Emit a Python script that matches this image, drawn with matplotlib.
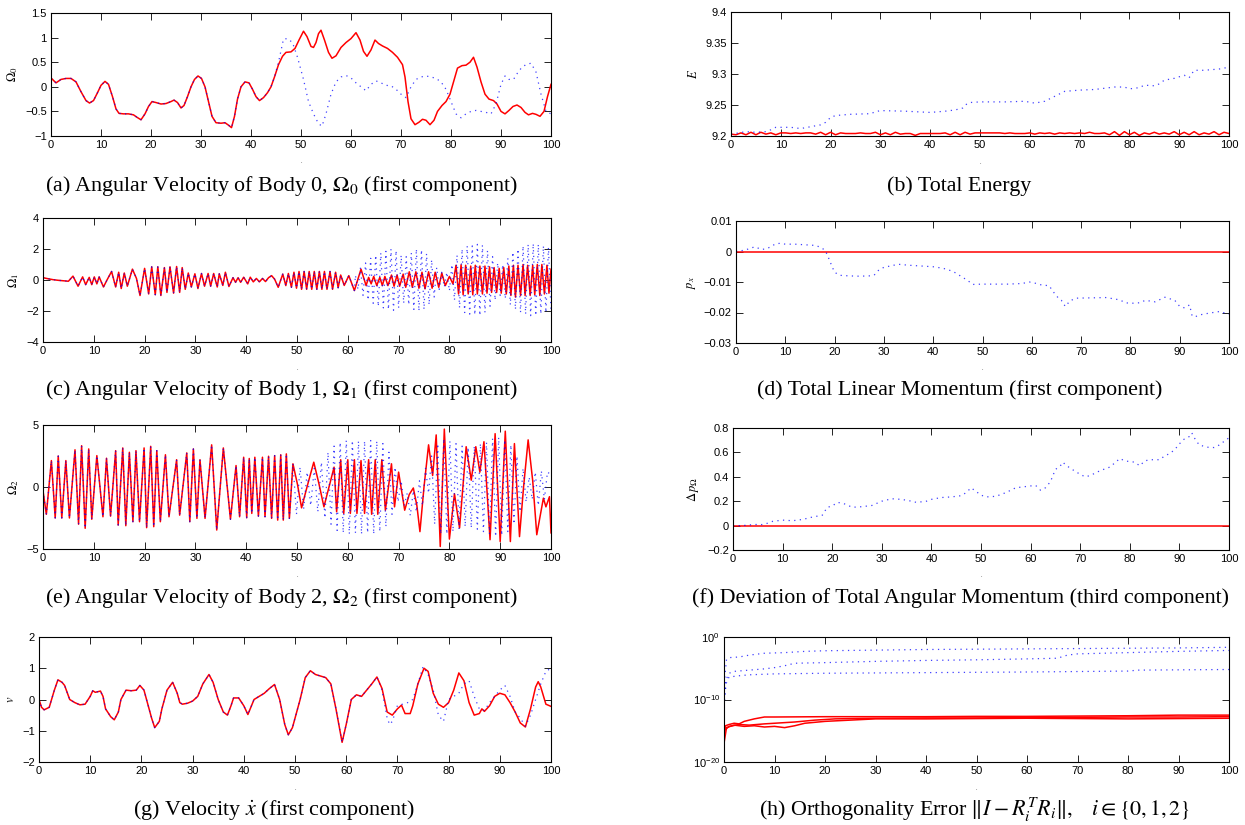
import numpy as np
import matplotlib
matplotlib.use('Agg')
import matplotlib.pyplot as plt
from matplotlib.ticker import NullLocator

plt.rcParams['font.family'] = ['Liberation Sans', 'DejaVu Sans']
plt.rcParams['mathtext.fontset'] = 'stix'

# ---- (a) angular velocity body 0 ----
om0_red = [(0,0.18),(1,0.08),(2,0.15),(3,0.17),(4,0.17),(5,0.1),(6,-0.1),(7,-0.28),(7.7,-0.33),(8.5,-0.28),
           (9.3,-0.12),(10,0.03),(10.8,0.11),(11.5,0.05),(12.3,-0.2),(13,-0.45),(13.6,-0.54),(14.5,-0.55),
           (15.5,-0.55),(16.5,-0.57),(17.2,-0.62),(18,-0.67),(18.8,-0.55),(19.5,-0.4),(20.2,-0.3),(21,-0.32),
           (22,-0.35),(23,-0.34),(24,-0.3),(24.6,-0.27),(25.3,-0.32),(26,-0.43),(26.6,-0.38),(27.3,-0.2),
           (28,0.0),(28.7,0.15),(29.4,0.22),(30.1,0.17),(30.8,0.0),(31.5,-0.3),(32.2,-0.6),(33,-0.73),
           (34,-0.74),(34.8,-0.73),(35.5,-0.78),(36.1,-0.83),(36.7,-0.6),(37.3,-0.25),(38,0.0),(38.8,0.1),
           (39.6,0.08),(40.3,-0.05),(41,-0.2),(41.7,-0.28),(42.5,-0.22),(43.3,-0.12),(44,0.0),(44.7,0.2),
           (45.5,0.45),(46.3,0.62),(47,0.7),(48,0.71),(48.8,0.78),(49.6,0.95),(50.5,1.13),(51.2,1.02),
           (52,0.82),(52.5,0.8),(53,0.9),(53.5,1.08),(54,1.15),(54.7,0.95),(55.5,0.7),(56.2,0.58),(57,0.63),
           (58,0.8),(59,0.9),(60,0.98),(61,1.1),(61.8,0.95),(62.5,0.72),(63.2,0.62),(64,0.75),(64.8,0.95),
           (65.5,0.88),(66.3,0.83),(67.3,0.78),(68.3,0.7),(69.3,0.6),(70.3,0.45),(70.8,0.2),(71.4,-0.3),
           (72,-0.65),(72.8,-0.77),(73.6,-0.72),(74.3,-0.66),(75,-0.68),(75.8,-0.77),(76.6,-0.68),
           (77.3,-0.5),(78.2,-0.38),(79,-0.3),(79.8,-0.15),(80.5,0.1),(81.3,0.38),(82.2,0.43),(83,0.44),
           (83.8,0.5),(84.5,0.6),(85.2,0.4),(86,0.1),(86.8,-0.15),(87.6,-0.25),(88.5,-0.28),(89.2,-0.35),
           (90,-0.5),(90.8,-0.55),(91.6,-0.48),(92.4,-0.4),(93.2,-0.37),(94,-0.42),(94.8,-0.52),(95.5,-0.57),
           (96.3,-0.54),(97,-0.56),(97.8,-0.6),(98.6,-0.5),(99.3,-0.2),(100,0.05)]
om0_blue_tail = [(45.5,0.5),(46.5,0.97),(47.3,0.98),(48.3,0.9),(49.3,0.6),(50.5,0.15),(51.5,-0.3),(52.5,-0.55),
                 (53.5,-0.75),(54.2,-0.8),(55,-0.55),(56,-0.15),(57,0.1),(58,0.2),(59,0.23),(60,0.18),(61,0.08),
                 (62,0.0),(63,-0.08),(64,0.05),(65,0.12),(66,0.08),(67,0.03),(68,0.02),(69,-0.05),(70,-0.15),
                 (71,-0.22),(72,0.0),(73,0.15),(74,0.2),(75,0.22),(76,0.2),(77,0.17),(78,0.1),(79,-0.05),
                 (80,-0.3),(81,-0.55),(82,-0.63),(83,-0.55),(84,-0.5),(85,-0.48),(86,-0.5),(87,-0.52),(88,-0.55),
                 (89,-0.35),(90,0.05),(90.8,0.22),(91.6,0.15),(92.5,0.15),(93.3,0.28),(94.2,0.4),(95,0.45),
                 (96,0.48),(97,0.3),(98,-0.15),(99,-0.5),(100,-0.55)]

# ---- (b) total energy ----
energy_t = np.arange(0, 101)
energy_red_milli = [3,2,5,2,6,2,6,3,5,2, 5,5,4,5,4,5,5,3,6,2, 6,2,5,4,4,4,5,4,4,6,
                    2,5,2,6,3,4,4,1,4,4, 4,4,4,5,2,6,2,6,3,5, 5,5,5,5,5,4,5,4,4,4,
                    5,3,5,4,5,3,5,4,5,4, 5,4,6,4,4,5,2,7,1,7, 2,6,1,5,3,6,3,5,3,7,
                    2,6,2,7,2,5,3,7,2,6, 4]
energy_blue = [(0,9.203),(3,9.207),(5,9.206),(7,9.207),(8,9.21),(9,9.214),(12,9.214),(14,9.212),(16,9.215),
               (18,9.218),(19,9.222),(20,9.23),(21,9.233),(24,9.235),(28,9.236),(29,9.239),(30,9.241),
               (35,9.24),(40,9.238),(43,9.24),(45,9.242),(46.5,9.245),(47,9.25),(48,9.254),(50,9.255),
               (55,9.255),(59,9.256),(61,9.253),(63,9.256),(64.5,9.262),(66,9.268),(67,9.272),(70,9.274),
               (73,9.275),(75,9.277),(77,9.279),(79,9.279),(80,9.276),(82,9.278),(83,9.282),(85,9.281),
               (86,9.284),(87,9.29),(89,9.293),(91,9.298),(92,9.294),(93,9.306),(95,9.306),(98,9.308),(100,9.311)]

# ---- (c) angular velocity body 1 ----
om1_red = [(0,0.15),(1,0.08),(2,0.02),(3,-0.02),(4,-0.05),(5,-0.08),
           (5.9,0.25),(6.9,-0.4),(7.8,0.2),(8.4,-0.3),(9.1,0.17),(9.6,-0.3),(10.1,0.2),(10.6,-0.25),(11.05,0.2),
           (11.9,-0.45),(12.6,0.0),(13.5,0.55),(14.3,-0.45),(14.9,0.5),(15.4,-0.55),(16.0,0.45),(16.6,-0.4),
           (17.6,0.7),(18.4,0.1),(19.1,-1.0),(20.0,0.75),(20.8,-0.9),(21.4,0.85),(22.1,-0.95),(22.6,0.85),
           (23.2,-1.0),(23.9,0.8),(24.4,-0.8),(25.0,0.85),(25.7,-0.85),(26.3,0.87),(26.9,-0.8),(27.4,0.8),
           (28.0,-0.6),(28.6,0.45),(29.2,-0.45),(29.9,0.4),(30.5,-0.55),(31.2,0.42),(31.8,-0.4),(32.5,0.42),
           (33.0,-0.4),(33.6,0.42),(34.3,-0.45),(34.7,0.4),(35.4,-0.35),(35.9,0.5),(36.6,-0.42),
           (37.4,0.15),(37.9,-0.15),(38.4,0.15),(38.9,-0.15),(39.5,0.18),(40.3,-0.25),(40.8,0.18),(41.4,-0.12),
           (42.0,0.1),(42.6,-0.12),(43.2,0.1),(43.8,-0.1),(44.4,0.15),(45.0,0.28),(45.6,0.05),(46.3,-0.47),
           (47.2,0.38),(47.8,-0.36),(48.3,0.42),(48.9,-0.47),(49.4,0.5),(49.9,-0.53),
           (50.4,0.55),(50.9,-0.6),(51.4,0.55),(51.9,-0.6),(52.4,0.55),(52.9,-0.6),(53.4,0.55),(53.9,-0.6),
           (54.4,0.55),(54.9,-0.6),(55.4,0.55),(55.9,-0.6),(56.5,0.55),(57.0,-0.6),(57.6,0.5),(58.1,-0.5),
           (58.6,0.32),(59.3,-0.35),(60.2,0.28),(61.3,-0.68),(62.6,0.7),(63.6,-0.36),(64.1,0.17),(64.6,-0.25),
           (65.1,0.23),(65.7,-0.36),(66.3,0.17),(66.8,-0.36),(67.3,0.23),(67.9,-0.36),(68.6,0.32),(69.1,-0.4),
           (69.7,0.32),(70.2,-0.4),(70.9,0.38),(71.4,-0.47),(72.1,0.53),(72.7,-0.47),(73.4,0.53),(74.0,-0.53),
           (74.6,0.5),(75.2,-0.57),(75.9,0.53),(76.6,-0.53),(77.2,0.5),(77.9,-0.47),(78.5,0.45),(79.2,-0.36),
           (80.0,0.23),(80.7,-0.25),
           (81.3,0.95),(81.8,-0.9),(82.3,0.98),(82.7,-0.95),(83.2,0.95),(83.7,-0.9),(84.2,0.9),(84.6,-0.95),
           (85.1,0.95),(85.5,-0.9),(86.0,0.9),(86.5,-0.9),(87.0,0.9),(87.4,-0.85),(87.9,0.85),(88.3,-0.8),
           (88.8,0.8),(89.3,-0.8),(89.8,0.75),(90.2,-0.85),(90.7,0.8),(91.2,-0.9),(91.7,0.9),(92.1,-1.0),
           (92.6,0.95),(93.0,-1.1),(93.5,0.95),(94.0,-1.0),(94.5,1.0),(94.9,-1.0),(95.4,0.95),(95.9,-1.0),
           (96.4,0.95),(96.8,-0.95),(97.3,1.0),(97.8,-1.0),(98.2,1.0),(98.7,-0.9),(99.2,0.95),(99.6,-0.85),
           (100,0.7)]
om1_blue_tail = [(61.5,0.3),(62.0,-0.6),(62.5,0.8),(63.0,-1.0),(63.5,1.1),(64.0,-1.3),(64.5,1.4),(65.0,-1.5),
                 (65.5,1.6),(66.0,-1.7),(66.5,1.75),(67.0,-1.8),(67.5,1.85),(68.0,-1.9),(68.5,2.0),(69.0,-1.95),
                 (69.5,1.9),(70.0,-1.8),(70.5,1.6),(71.0,-1.5),(71.5,1.5),(72.0,-1.6),(72.5,1.75),(73.0,-1.9),
                 (73.5,2.0),(74.0,-2.0),(74.5,1.95),(75.0,-1.9),(75.5,1.7),(76.0,-1.6),(76.5,1.3),(77.0,-1.1),
                 (77.5,0.8),(78.0,-0.6),(78.5,0.5),(79.0,-0.45),(79.5,0.5),(80.0,-0.7),(80.5,1.0),(81.0,-1.3),
                 (81.5,1.6),(82.0,-1.8),(82.5,2.0),(83.0,-2.1),(83.5,2.2),(84.0,-2.2),(84.5,2.2),(85.0,-2.25),
                 (85.5,2.3),(86.0,-2.3),(86.5,2.25),(87.0,-2.1),(87.5,1.9),(88.0,-1.7),(88.5,1.5),(89.0,-1.3),
                 (89.5,1.1),(90.0,-1.0),(90.5,1.0),(91.0,-1.2),(91.5,1.4),(92.0,-1.6),(92.5,1.8),(93.0,-1.9),
                 (93.5,2.0),(94.0,-2.1),(94.5,2.2),(95.0,-2.2),(95.5,2.3),(96.0,-2.3),(96.5,2.35),(97.0,-2.3),
                 (97.5,2.3),(98.0,-2.2),(98.5,2.2),(99.0,-2.1),(99.5,2.1),(100.0,-2.0)]

# ---- (d) linear momentum ----
px_red = [(0,0.0),(100,0.0)]
px_blue = [(0,0.0),(2,0.0005),(3,0.0012),(4,0.0015),(5,0.0007),(6,0.0008),(7,0.0015),(8,0.0025),(9,0.0027),
           (10,0.0024),(12,0.0024),(14,0.0022),(16,0.002),(17,0.0015),(18,0.0005),(18.5,-0.001),(19,-0.003),
           (19.5,-0.005),(20,-0.0068),(21,-0.0078),(23,-0.008),(25,-0.0081),(27,-0.008),(28,-0.0078),
           (29,-0.006),(30,-0.0052),(32,-0.0045),(33,-0.0042),(35,-0.0045),(38,-0.0048),(40,-0.005),
           (42,-0.0055),(44,-0.0065),(45,-0.0075),(46,-0.0085),(47,-0.0095),(48,-0.0108),(50,-0.0107),
           (55,-0.0107),(58,-0.0105),(59.5,-0.01),(61,-0.0105),(62,-0.011),(63.5,-0.0112),(64.5,-0.0135),
           (65.5,-0.0155),(66,-0.016),(66.5,-0.0175),(67,-0.018),(67.5,-0.0165),(68,-0.016),(69,-0.0153),
           (72,-0.0152),(75,-0.0151),(77,-0.0156),(78,-0.016),(79,-0.0168),(80,-0.017),(82,-0.0168),
           (83,-0.016),(85,-0.0165),(87,-0.015),(88,-0.0155),(89,-0.016),(90,-0.018),(91,-0.0185),
           (92,-0.0175),(92.5,-0.021),(93,-0.0215),(94,-0.0208),(96,-0.0202),(98,-0.0197),(100,-0.0205)]

# ---- (e) angular velocity body 2 ----
om2_red = [(0,-0.3),(0.66,-2.2),(1.65,2.13),(2.4,-2.5),(3.0,2.5),(3.7,-2.5),(4.5,2.13),(5.2,-2.5),(6.3,3.0),
           (7.0,-3.0),(7.6,3.33),(8.3,-3.33),(9.0,3.07),(9.6,-2.6),(10.6,2.53),(11.8,-2.4),(12.5,2.32),
           (13.3,-2.35),(14.3,2.93),(14.8,-3.07),(15.7,3.15),(16.3,-3.12),(17.0,2.8),(17.7,-2.8),(18.3,2.93),
           (19.0,-2.8),(19.9,3.15),(20.4,-3.28),(21.2,3.28),(21.8,-3.2),(22.4,2.93),(23.1,-2.8),(24.1,2.6),
           (24.8,-2.4),(26.3,2.2),(26.9,-2.27),(28.3,2.75),(28.9,-2.8),(29.6,3.07),(30.3,-2.53),(30.9,2.2),
           (31.9,-2.53),(33.2,3.4),(34.2,-3.47),(35.5,3.15),(36.9,-2.6),(38.0,1.73),(38.7,-2.4),(39.5,2.4),
           (40.1,-2.48),(40.6,2.3),(41.1,-2.13),(41.7,2.4),(42.4,-2.35),(43.2,2.4),(43.7,-2.4),(44.4,2.48),
           (45.0,-2.53),(45.6,2.53),(46.2,-2.67),(46.8,2.6),(47.3,-2.67),(47.9,2.67),(48.5,-2.53),(49.2,1.87),
           (50.1,0.2),(50.9,-1.68),(52.1,0.2),(53.3,2.0),(54.3,0.3),(55.3,-1.6),(56.3,0.0),(57.3,1.6),
           (57.8,-2.0),(58.6,2.2),(59.2,-2.13),(60.0,2.2),(60.5,-2.13),(61.3,2.2),(61.8,-2.13),(62.6,2.13),
           (63.3,-2.13),(64.1,2.2),(64.7,-2.2),(65.4,2.2),(65.9,-2.2),(66.7,2.2),(67.4,-1.87),(68.6,1.87),
           (69.2,-1.6),(70.0,1.2),(71.2,-1.87),(72.1,-0.6),(72.9,-0.08),(73.6,-1.5),(74.2,-3.6),(75.0,0.0),
           (75.9,3.4),(76.7,0.93),(77.4,4.2),(78.2,-4.8),(79.0,4.67),(80.0,-4.2),(81.0,-0.55),(82.0,-3.3),
           (83.3,3.25),(84.3,0.55),(85.2,3.25),(86.0,1.2),(86.8,3.65),(88.0,-4.25),(89.0,4.3),(90.0,-4.4),
           (91.0,4.5),(92.0,-4.4),(92.8,3.5),(93.8,-4.0),(94.6,0.0),(95.5,3.8),(96.4,0.5),(97.2,-3.85),
           (98.5,-0.9),(99.0,-1.6),(99.7,-0.78),(100,-3.7)]
om2_blue_tail = [(49.2,1.9),(49.9,-2.2),(50.6,1.6),(51.3,-1.8),(52.0,1.2),(52.7,-1.5),(53.4,1.5),(54.1,-2.0),
                 (54.8,2.0),(55.5,-2.5),(56.1,2.8),(56.7,-3.0),(57.3,3.3),(57.9,-3.5),(58.5,3.6),(59.1,-3.7),
                 (59.7,3.75),(60.3,-3.8),(60.9,3.75),(61.5,-3.7),(62.1,3.7),(62.7,-3.8),(63.3,3.7),(63.9,-3.7),
                 (64.5,3.75),(65.1,-3.8),(65.7,3.7),(66.3,-3.6),(66.9,3.5),(67.5,-3.2),(68.1,2.8),(68.7,-2.2),
                 (69.3,1.6),(69.9,-1.2),(70.5,0.5),(71.1,-1.5),(71.7,-0.5),(72.3,-2.3),(72.9,-0.3),(73.5,-2.0),
                 (74.1,0.5),(74.7,-1.5),(75.3,1.5),(75.9,-0.5),(76.5,2.5),(77.1,-3.0),(77.7,3.5),(78.3,-3.8),
                 (78.9,3.9),(79.5,-3.8),(80.1,3.7),(80.7,-3.6),(81.3,3.5),(81.9,-3.4),(82.5,3.3),(83.1,-3.2),
                 (83.7,3.2),(84.3,-3.3),(84.9,3.3),(85.5,-3.4),(86.1,3.5),(86.7,-3.6),(87.3,3.6),(87.9,-3.8),
                 (88.5,3.9),(89.1,-4.0),(89.7,4.0),(90.3,-3.9),(90.9,3.8),(91.5,-3.6),(92.1,3.4),(92.7,-3.0),
                 (93.3,2.5),(93.9,-2.0),(94.5,1.5),(95.1,-1.2),(95.7,0.8),(96.3,-1.0),(96.9,1.2),(97.5,-1.5),
                 (98.1,1.3),(98.7,-1.0),(99.3,1.2),(100,1.0)]

# ---- (f) deviation of angular momentum ----
dp_red = [(0,0.0),(100,0.0)]
dp_blue = [(0,0.0),(2,0.0),(3,0.005),(5,0.01),(6,0.008),(7,0.02),(8,0.035),(9,0.04),(10,0.045),(12,0.04),
           (14,0.05),(16,0.07),(18,0.085),(19,0.15),(20,0.16),(21,0.19),(22,0.185),(23,0.17),(24,0.15),
           (26,0.155),(28,0.165),(30,0.2),(32,0.22),(34,0.215),(36,0.2),(37,0.19),(39,0.2),(40,0.215),
           (42,0.23),(44,0.235),(46,0.245),(47,0.27),(48,0.31),(49,0.28),(50,0.25),(51,0.235),(53,0.24),
           (55,0.27),(57,0.31),(59,0.32),(61,0.33),(62,0.29),(63,0.31),(64,0.36),(65,0.46),(66,0.49),
           (66.5,0.52),(67,0.5),(68,0.47),(70,0.42),(71,0.4),(72,0.41),(74,0.45),(76,0.48),(78,0.55),
           (79,0.53),(81,0.52),(82,0.49),(83,0.53),(84,0.54),(86,0.54),(87,0.57),(88,0.59),(89,0.62),
           (90,0.67),(91,0.71),(92,0.73),(92.5,0.76),(93,0.72),(94,0.66),(96,0.64),(97,0.64),(98,0.66),(100,0.72)]

# ---- (g) velocity ----
vel_red = [(0,0.0),(0.5,-0.25),(1,-0.33),(2,-0.25),(3,0.3),(3.7,0.63),(4.5,0.55),(5,0.45),(6,0.0),(7,-0.1),
           (8,-0.17),(9,-0.15),(10,0.1),(10.5,0.28),(11,0.23),(12,0.27),(12.5,0.1),(13,-0.3),(14,-0.55),
           (14.7,-0.65),(15.5,-0.4),(16,0.0),(17,0.3),(18,0.28),(19,0.3),(19.7,0.45),(20.5,0.3),(21,0.0),
           (22,-0.6),(22.6,-0.9),(23.5,-0.7),(24,-0.3),(25,0.3),(26.1,0.55),(27,0.2),(27.5,-0.1),(28,-0.15),
           (29,-0.12),(30,-0.05),(31,0.1),(32,0.5),(33.2,0.8),(34,0.55),(35,0.0),(36,-0.4),(36.8,-0.5),
           (37.5,-0.2),(38,0.05),(39,0.05),(40,-0.2),(40.8,-0.48),(41.5,-0.2),(42,0.0),(43,0.1),(44,0.2),
           (45,0.35),(46,0.48),(47,0.0),(48,-0.8),(48.7,-1.13),(49.5,-0.9),(50,-0.6),(51,0.0),(52,0.7),
           (53,0.92),(54,0.8),(55,0.75),(56,0.7),(57,0.5),(58,-0.3),(59.2,-1.37),(60,-0.8),(61,0.0),(62,0.15),
           (63,0.1),(64,0.3),(65,0.5),(66,0.72),(67,0.35),(68,-0.4),(69,-0.5),(70,-0.3),(70.8,-0.18),
           (71.5,-0.45),(72.5,-0.45),(73,-0.2),(74,0.5),(75.2,1.0),(76,0.9),(77,0.2),(78,-0.15),(79,-0.25),
           (80,-0.1),(81,0.3),(82,0.85),(83,0.6),(84,-0.1),(85,-0.5),(86,-0.45),(86.5,-0.3),(87,-0.38),
           (88,-0.2),(89,0.1),(90,0.2),(91,0.15),(92,-0.1),(93,-0.4),(94,-0.75),(95,-0.88),(96,-0.3),
           (97,0.4),(97.5,0.57),(98,0.4),(99,-0.15),(100,-0.22)]
vel_blue_tail = [(67,0.3),(68,-0.6),(68.5,-0.8),(69,-0.7),(70,-0.2),(71,-0.15),(72,-0.1),(73,0.0),(74,0.5),
                 (75,1.05),(76,0.8),(77,0.3),(78,-0.5),(79,-0.7),(80,0.0),(81,0.1),(82,0.2),(83,0.5),(84,0.6),
                 (85,0.1),(86,-0.3),(87,-0.35),(88,-0.1),(89,0.1),(90,0.3),(91,0.45),(92,0.1),(93,-0.4),
                 (94,-0.6),(95,-0.85),(96,-0.5),(97,0.0),(98,0.5),(99,0.9),(100,1.0)]

# ---- (h) orthogonality error, log10 values ----
orth_blue_exp = [
    [(0,-11),(0.2,-6),(0.5,-3.6),(1,-3.3),(3,-3.2),(5,-2.9),(8,-2.6),(12,-2.5),(16,-2.3),(20,-2.2),
     (30,-2.1),(40,-2.0),(50,-1.95),(60,-1.9),(70,-1.85),(80,-1.8),(90,-1.75),(100,-1.65)],
    [(0,-11),(0.3,-7),(1,-5.8),(2,-5.5),(5,-5.3),(8,-5.1),(10,-4.9),(12,-4.6),(14,-4.2),(20,-4.1),
     (30,-3.9),(40,-3.75),(50,-3.65),(60,-3.5),(66,-3.4),(68,-2.9),(70,-2.7),(80,-2.5),(90,-2.3),(100,-2.15)],
    [(0,-11),(0.4,-7.5),(1,-6.4),(3,-6.2),(5,-6.05),(10,-5.9),(20,-5.8),(40,-5.7),(60,-5.6),(80,-5.45),
     (82,-5.3),(100,-5.2)],
]
orth_red_exp = [
    [(0,-16),(0.3,-14.2),(1,-14.0),(2,-13.8),(3,-13.9),(4,-13.5),(6,-13.1),(8,-12.8),(10,-12.8),
     (20,-12.75),(30,-12.75),(40,-12.75),(50,-12.7),(60,-12.7),(70,-12.65),(80,-12.6),(90,-12.5),(100,-12.5)],
    [(0,-15),(1,-14.3),(3,-14.0),(5,-14.1),(8,-13.9),(10,-13.8),(14,-13.6),(18,-13.3),(22,-13.1),
     (30,-13.0),(40,-12.95),(50,-12.95),(60,-12.9),(70,-12.85),(80,-12.8),(90,-12.8),(100,-12.75)],
    [(0,-17),(0.5,-14.5),(2,-14.1),(4,-14.3),(6,-14.2),(8,-14.4),(10,-14.3),(12,-14.5),(14,-14.2),
     (16,-13.8),(20,-13.5),(25,-13.3),(30,-13.1),(40,-13.1),(50,-13.05),(60,-13.0),(70,-13.05),
     (80,-13.1),(90,-13.05),(100,-13.0)],
]

W, H = 1245, 825
fig = plt.figure(figsize=(W / 100, H / 100), dpi=100)

RED = dict(color='#ff0000', lw=1.1, solid_joinstyle='round')
BLUE = dict(color='#0000ff', lw=0.9, ls=(0, (1, 3.5)), alpha=0.75)


def pts(pairs):
    a = np.array(pairs, dtype=float)
    return a[:, 0], a[:, 1]


def make_axes(l, r, t, b):
    return fig.add_axes([l / W, 1 - b / H, (r - l) / W, (b - t) / H])


def style(ax, yticks=None, ylabels=None, ylabel=None):
    ax.set_xlim(0, 100)
    ax.set_xticks(range(0, 101, 10))
    if yticks is not None:
        ax.set_yticks(yticks)
        ax.set_yticklabels(ylabels)
        ax.set_ylim(yticks[0], yticks[-1])
    ax.tick_params(direction='in', top=True, right=True, length=5, width=0.6,
                   labelsize=8, pad=3)
    for s in ax.spines.values():
        s.set_linewidth(0.8)
    if ylabel:
        ax.set_ylabel(ylabel, fontsize=9, labelpad=4)
    ax.text(0.5, -0.21, '.', transform=ax.transAxes, ha='center', va='center', fontsize=4)


def caption(x, y, s):
    fig.text(x / W, 1 - y / H, s, ha='center', va='center', family='Liberation Serif', fontsize=15.8)


# left column x range, right column x range
LX = (51, 551)
RX = (731, 1229)

# (a)
ax = make_axes(LX[0], LX[1], 13, 136)
ax.plot(*pts(om0_red), **RED)
ax.plot(*pts([p for p in om0_red if p[0] <= 44.7] + om0_blue_tail), **BLUE)
style(ax, [-1, -0.5, 0, 0.5, 1, 1.5], ['\u22121', '\u22120.5', '0', '0.5', '1', '1.5'], r'$\Omega_0$')
caption(282, 186, r'(a) Angular Velocity of Body 0, $\Omega_0$ (first component)')

# (b)
ax = make_axes(RX[0], RX[1], 12, 136)
ax.plot(energy_t, 9.2 + 0.001 * np.array(energy_red_milli), **RED)
ax.plot(*pts(energy_blue), **BLUE)
style(ax, [9.2, 9.25, 9.3, 9.35, 9.4], ['9.2', '9.25', '9.3', '9.35', '9.4'], r'$E$')
caption(959, 186, '(b) Total Energy')

# (c)
ax = make_axes(43, LX[1], 218, 342)
ax.plot(*pts(om1_red), **RED)
ax.plot(*pts([p for p in om1_red if p[0] <= 61.3] + om1_blue_tail), **BLUE)
style(ax, [-4, -2, 0, 2, 4], ['\u22124', '\u22122', '0', '2', '4'], r'$\Omega_1$')
caption(282, 390, r'(c) Angular Velocity of Body 1, $\Omega_1$ (first component)')

# (d)
ax = make_axes(736, RX[1], 221, 343)
ax.plot(*pts(px_red), **RED)
ax.plot(*pts(px_blue), **BLUE)
style(ax, [-0.03, -0.02, -0.01, 0, 0.01], ['\u22120.03', '\u22120.02', '\u22120.01', '0', '0.01'], r'$p_x$')
caption(960, 390, '(d) Total Linear Momentum (first component)')

# (e)
ax = make_axes(43, LX[1], 425, 549)
ax.plot(*pts(om2_red), **RED)
ax.plot(*pts([p for p in om2_red if p[0] <= 48.5] + om2_blue_tail), **BLUE)
style(ax, [-5, 0, 5], ['\u22125', '0', '5'], r'$\Omega_2$')
caption(282, 598, r'(e) Angular Velocity of Body 2, $\Omega_2$ (first component)')

# (f)
ax = make_axes(733, RX[1], 428, 550)
ax.plot(*pts(dp_red), **RED)
ax.plot(*pts(dp_blue), **BLUE)
style(ax, [-0.2, 0, 0.2, 0.4, 0.6, 0.8], ['\u22120.2', '0', '0.2', '0.4', '0.6', '0.8'], r'$\Delta\, p_\Omega$')
caption(961, 598, '(f) Deviation of Total Angular Momentum (third component)')

# (g)
ax = make_axes(39, LX[1], 637, 762)
ax.plot(*pts(vel_red), **RED)
ax.plot(*pts([p for p in vel_red if p[0] <= 66] + vel_blue_tail), **BLUE)
style(ax, [-2, -1, 0, 1, 2], ['\u22122', '\u22121', '0', '1', '2'], r'$v$')
caption(274, 810, r'(g) Velocity $\dot{x}$ (first component)')

# (h)
ax = make_axes(724, RX[1], 637, 762)
for line in orth_red_exp:
    t, e = pts(line)
    ax.semilogy(t, 10.0 ** e, **RED)
for line in orth_blue_exp:
    t, e = pts(line)
    ax.semilogy(t, 10.0 ** e, **BLUE)
style(ax)
ax.set_ylim(1e-20, 1e0)
ax.set_yticks([1e-20, 1e-10, 1e0])
ax.yaxis.set_minor_locator(NullLocator())
caption(975, 810, r'(h) Orthogonality Error $\|I-R_i^T R_i\|,\quad i\in\{0,1,2\}$')

fig.savefig('out.png', dpi=100)
